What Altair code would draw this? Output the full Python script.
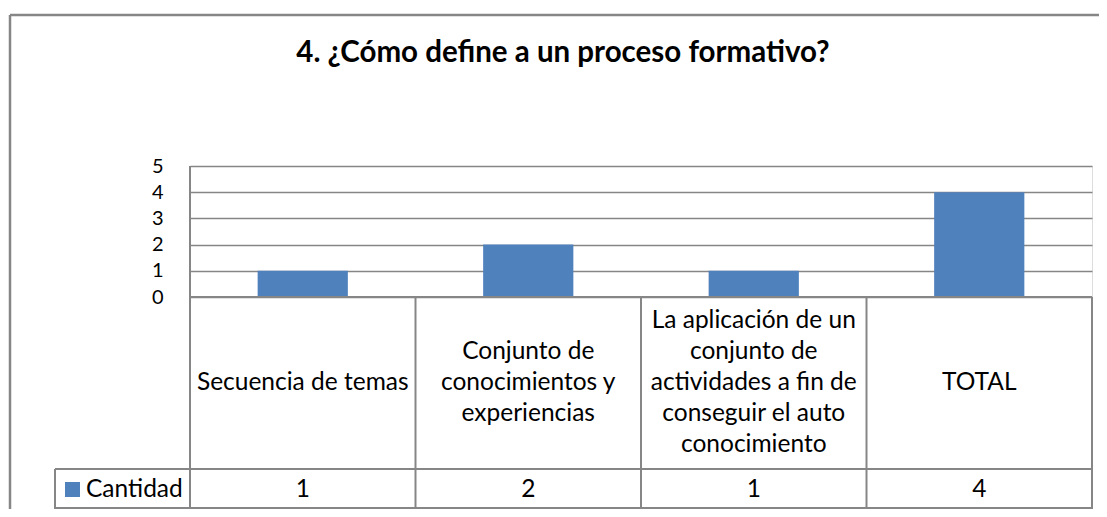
import altair as alt
import pandas as pd

# ---- data ----
categories = [
    "Secuencia de temas",
    "Conjunto de conocimientos y experiencias",
    "La aplicación de un conjunto de actividades a fin de conseguir el auto conocimiento",
    "TOTAL",
]
category_lines = [
    "Secuencia de temas",
    "Conjunto de\nconocimientos y\nexperiencias",
    "La aplicación de un\nconjunto de\nactividades a fin de\nconseguir el auto\nconocimiento",
    "TOTAL",
]
values = [1, 2, 1, 4]
series_name = "Cantidad"
title_text = "4. ¿Cómo define a un proceso formativo?"
y_ticks = [0, 1, 2, 3, 4, 5]

df = pd.DataFrame({"cat": categories, "label": category_lines, "val": values})
dummy = pd.DataFrame({"d": [0]})

FONT = "Lato"
GRID = "#868686"
BLUE = "#4F81BD"
W, H = 902, 131
TFS = 24.5
LH = 31
CELL_MID = 217

xscale = alt.Scale(paddingInner=0, paddingOuter=0)
xenc = alt.X("cat:N", sort=categories, scale=xscale, axis=None)

bars = alt.Chart(df).mark_bar(width=alt.RelativeBandSize(0.4), color=BLUE).encode(
    x=xenc,
    y=alt.Y("val:Q", scale=alt.Scale(domain=[0, 5]),
            axis=alt.Axis(values=y_ticks, grid=True, gridColor=GRID, gridWidth=1.6,
                          domain=False, ticks=False, labelFontSize=20, labelFont=FONT,
                          labelColor="black", labelPadding=27, title=None)),
)

# table: category labels, one layer per cell so each block is centred vertically
cat_layers = []
for cat, lab in zip(categories, category_lines):
    n = lab.count("\n") + 1
    cat_layers.append(
        alt.Chart(df).transform_filter(alt.datum.cat == cat).mark_text(
            font=FONT, fontSize=TFS, lineBreak="\n", lineHeight=LH,
            baseline="middle", align="center", color="black").encode(
            x=xenc, y=alt.value(CELL_MID - (n - 1) * LH / 2), text="label:N")
    )

val_text = alt.Chart(df).mark_text(font=FONT, fontSize=TFS, baseline="middle",
                                    align="center", color="black").encode(
    x=xenc, y=alt.value(323.5), text="val:Q")

# column separators (left edge of each band) + right edge
seps = alt.Chart(df).mark_rule(color=GRID, strokeWidth=2).encode(
    x=alt.X("cat:N", sort=categories, bandPosition=0, scale=xscale, axis=None),
    y=alt.value(131), y2=alt.value(344))
left_axis = alt.Chart(dummy).mark_rule(color=GRID, strokeWidth=2).encode(
    x=alt.value(0), y=alt.value(0), y2=alt.value(131))
right_sep = alt.Chart(dummy).mark_rule(color=GRID, strokeWidth=2).encode(
    x=alt.value(W), y=alt.value(131), y2=alt.value(344))

top_line = alt.Chart(dummy).mark_rule(color=GRID, strokeWidth=2).encode(
    x=alt.value(0), x2=alt.value(W), y=alt.value(131))
mid_line = alt.Chart(dummy).mark_rule(color=GRID, strokeWidth=2).encode(
    x=alt.value(-135), x2=alt.value(W), y=alt.value(303))
bot_line = alt.Chart(dummy).mark_rule(color=GRID, strokeWidth=2).encode(
    x=alt.value(-135), x2=alt.value(W), y=alt.value(342))
leg_left = alt.Chart(dummy).mark_rule(color=GRID, strokeWidth=2).encode(
    x=alt.value(-135), y=alt.value(303), y2=alt.value(344))

swatch = alt.Chart(dummy).mark_rect(color=BLUE).encode(
    x=alt.value(-125), x2=alt.value(-110), y=alt.value(316), y2=alt.value(331))
leg_text = alt.Chart(pd.DataFrame({"s": [series_name]})).mark_text(
    font=FONT, fontSize=TFS, baseline="middle", align="left", color="black").encode(
    x=alt.value(-104), y=alt.value(323.5), text="s:N")

# outer chart border (left and top visible)
outer_left = alt.Chart(dummy).mark_rule(color=GRID, strokeWidth=2.5).encode(
    x=alt.value(-180), y=alt.value(-151), y2=alt.value(400))
outer_top = alt.Chart(dummy).mark_rule(color=GRID, strokeWidth=2.5).encode(
    x=alt.value(-180), x2=alt.value(950), y=alt.value(-151))

title = alt.Chart(pd.DataFrame({"t": [title_text]})).mark_text(
    font=FONT, fontSize=29.5, fontWeight="bold", baseline="alphabetic", align="center",
    color="black").encode(x=alt.value(373), y=alt.value(-104), text="t:N")

chart = alt.layer(
    outer_left, outer_top, bars, seps, left_axis, right_sep, top_line, mid_line, bot_line,
    leg_left, *cat_layers, val_text, swatch, leg_text, title,
).properties(
    width=W, height=H,
    autosize=alt.AutoSizeParams(type="none"),
    padding={"left": 182, "top": 158, "right": 7, "bottom": 212},
).configure_view(stroke=None).configure(background="white")

chart.save("out.html", embed_options={"renderer": "svg", "actions": False})
